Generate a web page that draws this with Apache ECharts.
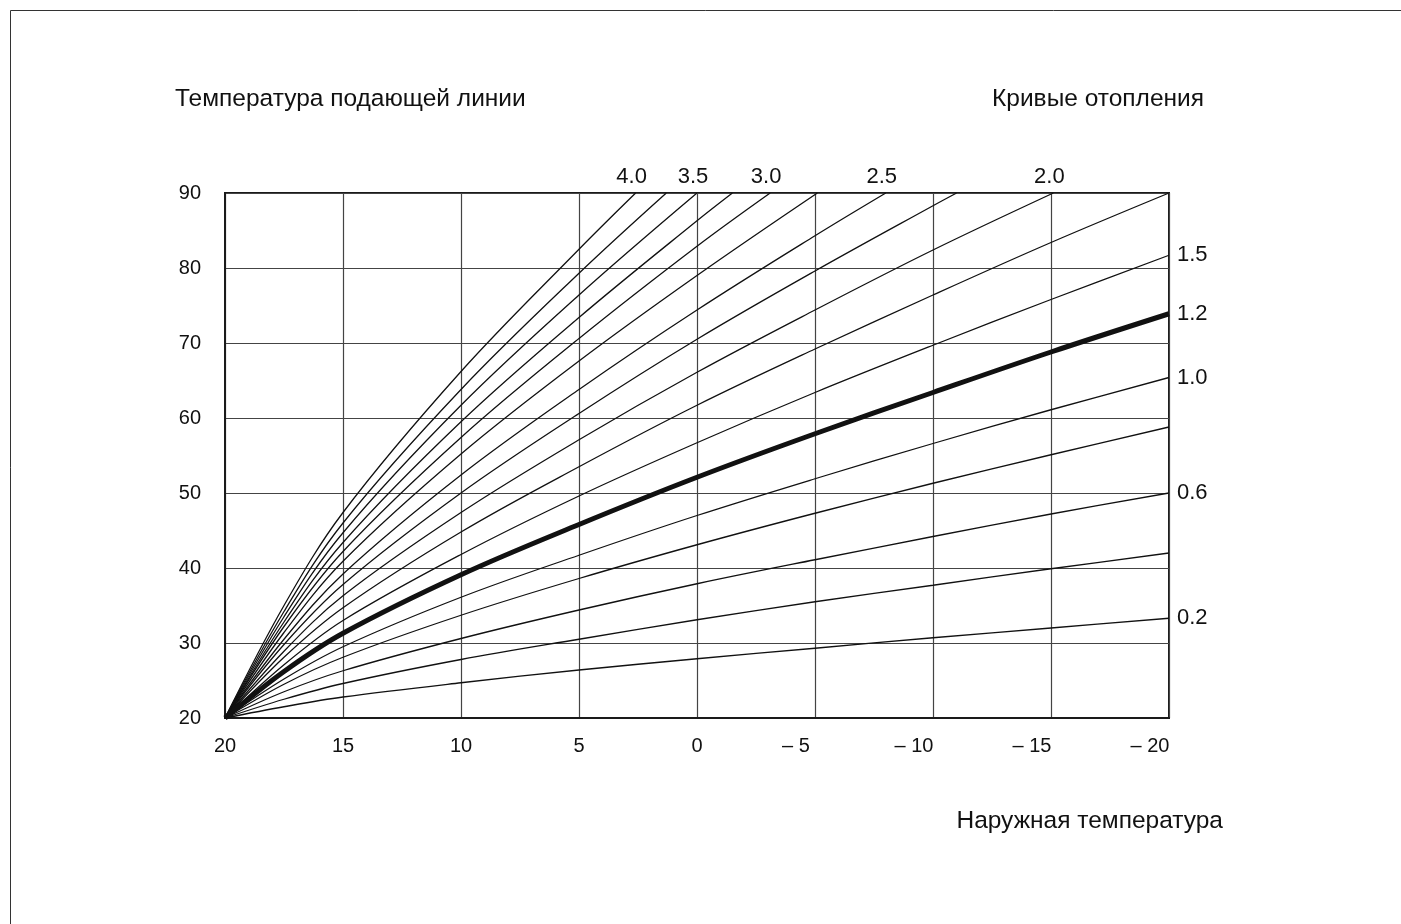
<!DOCTYPE html>
<html lang="ru">
<head>
    <meta charset="UTF-8">
    <title>Кривые отопления</title>
    <script src="https://cdn.jsdelivr.net/npm/echarts@6/dist/echarts.min.js"></script>
</head>
<body style="margin:0;background:#fff;">
<div id="myChart" style="width: 1401px;height: 924px;"></div>

<script>
    // наружная температура, точки по сетке
    var outsideTemp = [20, 17.5, 15, 10, 5, 0, -5, -10, -15, -20];

    // температура подающей линии для каждой кривой (по точкам outsideTemp)
    var k02 = [20, 21.5, 22.8, 24.7, 26.4, 27.9, 29.3, 30.7, 32.0, 33.3];
    var k04 = [20, 22.5, 24.6, 27.8, 30.5, 33.1, 35.5, 37.7, 39.9, 42.0];
    var k06 = [20, 23.5, 26.3, 30.6, 34.4, 37.9, 41.1, 44.2, 47.2, 50.0];
    var k08 = [20, 24.5, 28.1, 33.7, 38.6, 43.1, 47.3, 51.3, 55.1, 58.8];
    var k10 = [20, 25.2, 29.5, 36.1, 41.7, 47.0, 51.9, 56.6, 61.1, 65.4];
    var k12 = [20, 26.2, 31.3, 39.1, 45.8, 52.1, 57.9, 63.4, 68.8, 73.9];
    var k15 = [20, 27.1, 33.0, 41.8, 49.6, 56.7, 63.4, 69.7, 75.8, 81.7];
    var k175 = [20, 28.1, 34.7, 44.8, 53.5, 61.7, 69.2, 76.4, 83.4, 90.0];
    var k20 = [20, 28.9, 36.3, 47.4, 57.1, 66.1, 74.4, 82.4];
    var k225 = [20, 29.8, 37.8, 50.0, 60.6, 70.5, 79.6, 88.3];
    var k25 = [20, 30.5, 39.2, 52.4, 63.8, 74.4, 84.3];
    var k275 = [20, 31.4, 40.9, 55.2, 67.6, 79.0];
    var k30 = [20, 32.2, 42.2, 57.4, 70.6, 82.9];
    var k325 = [20, 32.8, 43.4, 59.5, 73.4, 86.3];
    var k35 = [20, 33.5, 44.7, 61.7, 76.4];
    var k375 = [20, 34.2, 46.0, 63.8, 79.3];
    var k40 = [20, 35.0, 47.4, 66.2, 82.5];

    // где кривая выходит за верхний край (90 °C)
    var exitTemp = {k20: -15.1, k225: -11.0, k25: -8.0, k275: -5.1, k30: -3.1, k325: -1.5, k35: 0, k375: 1.3, k40: 2.6};

    var curves = [
        ['0.2', 'k02', k02], ['0.4', 'k04', k04], ['0.6', 'k06', k06], ['0.8', 'k08', k08],
        ['1.0', 'k10', k10], ['1.2', 'k12', k12], ['1.5', 'k15', k15], ['1.75', 'k175', k175],
        ['2.0', 'k20', k20], ['2.25', 'k225', k225], ['2.5', 'k25', k25], ['2.75', 'k275', k275],
        ['3.0', 'k30', k30], ['3.25', 'k325', k325], ['3.5', 'k35', k35], ['3.75', 'k375', k375],
        ['4.0', 'k40', k40]
    ];

    var topLabels = ['4.0', '3.5', '3.0', '2.5', '2.0'];
    var rightLabels = ['1.5', '1.2', '1.0', '0.6', '0.2'];
    var boldCurve = '1.2';

    var font = '"Liberation Sans", Arial, Helvetica, sans-serif';

    var seriesData = [];
    var topPoints = [];
    var rightPoints = [];
    var $each = function (arr, fn) { for (var i = 0; i < arr.length; i++) fn(arr[i], i); };

    $each(curves, function (c) {
        var pts = [];
        $each(c[2], function (v, i) { pts.push([outsideTemp[i], v]); });
        if (exitTemp[c[1]] !== undefined) {
            pts.push([exitTemp[c[1]], 90]);
        }
        var last = pts[pts.length - 1];
        if (topLabels.indexOf(c[0]) >= 0) topPoints.push({value: last, name: c[0]});
        if (rightLabels.indexOf(c[0]) >= 0) rightPoints.push({value: last, name: c[0]});
        seriesData.push({
            name: c[0],
            type: 'line',
            data: pts,
            smooth: 0.35,
            symbol: 'none',
            silent: true,
            lineStyle: {color: '#111', width: c[0] === boldCurve ? 5 : 1.3},
            z: c[0] === boldCurve ? 5 : 3
        });
    });

    seriesData.push({
        type: 'scatter', data: topPoints, symbolSize: 0, itemStyle: {color: '#111', opacity: 1}, silent: true,
        label: {show: true, position: 'top', distance: 5, offset: [-4, 0], formatter: '{b}', color: '#111', opacity: 1, fontSize: 22, fontFamily: font}
    });
    seriesData.push({
        type: 'scatter', data: rightPoints, symbolSize: 0, itemStyle: {color: '#111', opacity: 1}, silent: true,
        label: {show: true, position: 'right', distance: 8, formatter: '{b}', color: '#111', opacity: 1, fontSize: 22, fontFamily: font}
    });

    var myChart = echarts.init(document.getElementById('myChart'));

    var option = {
        backgroundColor: '#fff',
        animation: false,
        grid: {
            left: 225, top: 193, width: 944, height: 525,
            show: true, borderColor: '#1a1a1a', borderWidth: 2
        },
        xAxis: {
            type: 'value', min: -20, max: 20, interval: 5, inverse: true,
            axisLine: {show: true, onZero: false, lineStyle: {color: '#1a1a1a', width: 2}},
            axisTick: {show: false},
            splitLine: {show: true, lineStyle: {color: '#444', width: 1.2}},
            axisLabel: {
                margin: 18, color: '#111', fontSize: 20, fontFamily: font,
                formatter: function (v) {
                    if (v < 0) return '{neg|– ' + (-v) + '}';
                    return String(v);
                },
                rich: {neg: {padding: [0, 38, 0, 0], fontSize: 20, fontFamily: font, color: '#111'}}
            }
        },
        yAxis: {
            type: 'value', min: 20, max: 90, interval: 10,
            axisLine: {show: true, onZero: false, lineStyle: {color: '#1a1a1a', width: 2}},
            axisTick: {show: false},
            splitLine: {show: true, lineStyle: {color: '#444', width: 1.2}},
            axisLabel: {margin: 24, color: '#111', fontSize: 20, fontFamily: font}
        },
        graphic: [
            {type: 'line', shape: {x1: 10.5, y1: 10.5, x2: 1401, y2: 10.5}, style: {stroke: '#333', lineWidth: 1}},
            {type: 'line', shape: {x1: 10.5, y1: 10.5, x2: 10.5, y2: 924}, style: {stroke: '#333', lineWidth: 1}},
            {type: 'text', left: 175, top: 87, style: {text: 'Температура подающей линии', fontSize: 24.5, fontFamily: font, fill: '#111'}},
            {type: 'text', right: 197, top: 87, style: {text: 'Кривые отопления', fontSize: 24.5, fontFamily: font, fill: '#111'}},
            {type: 'text', right: 178, top: 809, style: {text: 'Наружная температура', fontSize: 24.5, fontFamily: font, fill: '#111'}}
        ],
        series: seriesData
    };

    myChart.setOption(option);
</script>
</body>
</html>
